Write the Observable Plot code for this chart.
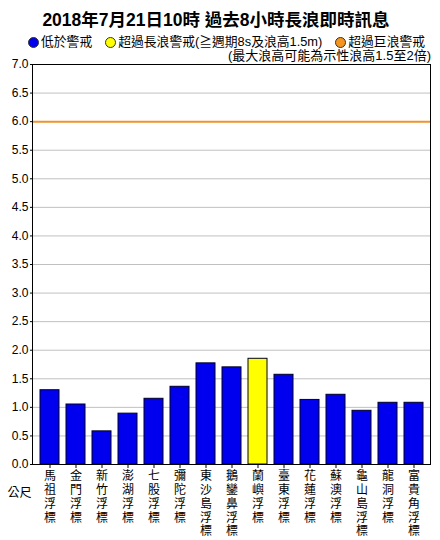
<!DOCTYPE html>
<html>
<head>
<meta charset="utf-8">
<script src="https://cdn.jsdelivr.net/npm/d3@7"></script>
<script src="https://cdn.jsdelivr.net/npm/@observablehq/plot@0.6"></script>
<style>
  html, body { margin: 0; padding: 0; background: white; }
  #wrap { position: relative; width: 440px; height: 540px; overflow: hidden;
          font-family: "Liberation Sans", "Noto Sans CJK TC", sans-serif; color: black; }
  #title { position: absolute; left: 0; top: 8px; width: 432px; text-align: center;
           font-size: 17.5px; font-weight: bold; line-height: 24px; z-index: 2; }
  #legend { position: absolute; left: 28px; top: 34px; font-size: 12.8px; line-height: 16px; white-space: nowrap; z-index: 2; display: flex; }
  #legend .item { display: inline-flex; align-items: center; margin-right: 13px; }
  #legend .dot { display: inline-block; width: 11px; height: 11px; border-radius: 50%;
                 border: 1px solid #333; margin-right: 2px; box-sizing: border-box; }
  #note { position: absolute; right: 9px; top: 49px; font-size: 13px; line-height: 14px; white-space: nowrap; z-index: 2; }
  #chart { position: absolute; left: 0; top: 56px; z-index: 1; }
</style>
</head>
<body>
<div id="wrap">
  <div id="title"></div>
  <div id="legend"></div>
  <div id="note"></div>
  <div id="chart"></div>
</div>
<script>
const titleText = "2018年7月21日10時 過去8小時長浪即時訊息";
const noteText = "(最大浪高可能為示性浪高1.5至2倍)";
const unitLabel = ["公尺"];

const stations = ["馬祖浮標","金門浮標","新竹浮標","澎湖浮標","七股浮標","彌陀浮標","東沙島浮標","鵝鑾鼻浮標","蘭嶼浮標","臺東浮標","花蓮浮標","蘇澳浮標","龜山島浮標","龍洞浮標","富貴角浮標"];
const waveHeights = [1.30, 1.05, 0.58, 0.89, 1.15, 1.36, 1.77, 1.70, 1.85, 1.57, 1.13, 1.22, 0.94, 1.08, 1.08];
const statuses = ["低於警戒","低於警戒","低於警戒","低於警戒","低於警戒","低於警戒","低於警戒","低於警戒","超過長浪警戒","低於警戒","低於警戒","低於警戒","低於警戒","低於警戒","低於警戒"];

const statusNames = ["低於警戒", "超過長浪警戒", "超過巨浪警戒"];
const legendLabels = ["低於警戒", "超過長浪警戒(≧週期8s及浪高1.5m)", "超過巨浪警戒"];
const statusColors = ["#0000EE", "#FFFF00", "#F7941D"];

const yTicks = [0.0, 0.5, 1.0, 1.5, 2.0, 2.5, 3.0, 3.5, 4.0, 4.5, 5.0, 5.5, 6.0, 6.5, 7.0];
const hugeWaveThreshold = [6.0];

const data = stations.map((s, i) => ({station: s, height: waveHeights[i], status: statuses[i]}));

document.getElementById("title").textContent = titleText;
document.getElementById("note").textContent = noteText;
const legend = document.getElementById("legend");
legendLabels.forEach((lab, i) => {
  const item = document.createElement("span");
  item.className = "item";
  const dot = document.createElement("span");
  dot.className = "dot";
  dot.style.background = statusColors[i];
  item.appendChild(dot);
  item.appendChild(document.createTextNode(lab));
  legend.appendChild(item);
});

const chart = Plot.plot({
  width: 440,
  height: 484,
  marginTop: 8,
  marginLeft: 32,
  marginRight: 10,
  marginBottom: 76,
  style: {fontFamily: '"Liberation Sans", "Noto Sans CJK TC", sans-serif', fontSize: "12px", background: "transparent", color: "black", overflow: "visible"},
  x: {domain: stations, padding: 0.27, label: null},
  y: {domain: [0, 7], label: null},
  color: {domain: statusNames, range: statusColors},
  marks: [
    Plot.gridY(yTicks, {stroke: "#c0c0c0", strokeOpacity: 1}),
    Plot.ruleY(hugeWaveThreshold, {stroke: "#F0952D", strokeWidth: 2}),
    Plot.barY(data, {x: "station", y: "height", fill: "status", stroke: "#000022", strokeWidth: 1}),
    Plot.frame({stroke: "black", strokeWidth: 1}),
    Plot.axisY(yTicks, {tickSize: 2, tickPadding: 2, tickFormat: d3.format(".1f"), fontSize: 12, label: null}),
    Plot.axisX({tickSize: 4, tickPadding: 2, tickFormat: d => [...d].join("\n"), lineHeight: 1.15, fontSize: 12, label: null}),
    Plot.text(unitLabel, {frameAnchor: "bottom-left", dx: -13, dy: 32, textAnchor: "middle", fontSize: 12})
  ]
});
document.getElementById("chart").appendChild(chart);
</script>
</body>
</html>
